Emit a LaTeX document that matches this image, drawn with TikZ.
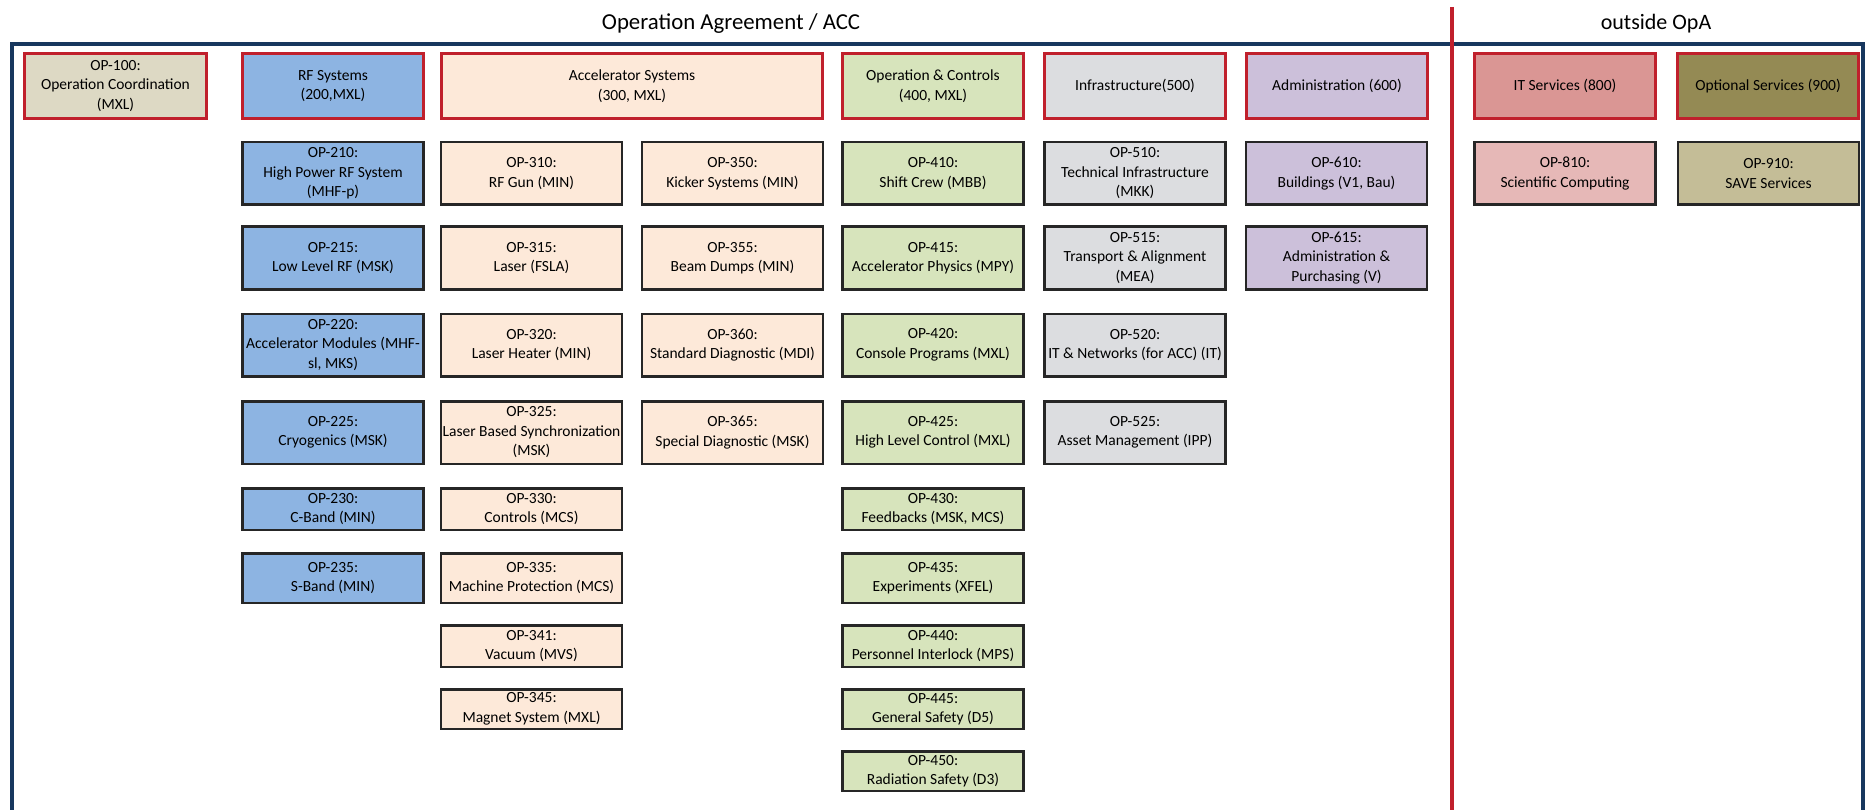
\documentclass[tikz,border=0pt]{standalone}
\usepackage{fontspec}
\setmainfont{Carlito}
\definecolor{navy}{RGB}{23,55,94}
\definecolor{redline}{RGB}{192,32,44}
\definecolor{boxline}{RGB}{38,38,38}
\definecolor{coordbeige}{RGB}{221,217,196}
\definecolor{rfblue}{RGB}{141,180,226}
\definecolor{accpeach}{RGB}{253,233,217}
\definecolor{opgreen}{RGB}{215,228,188}
\definecolor{infragray}{RGB}{220,221,224}
\definecolor{adminlilac}{RGB}{204,192,218}
\definecolor{itrose}{RGB}{218,150,148}
\definecolor{itlight}{RGB}{230,184,183}
\definecolor{optolive}{RGB}{148,138,84}
\definecolor{optkhaki}{RGB}{196,189,151}
\tikzset{
    boxfont/.style={font=\fontsize{15.5}{19.5}\selectfont},
    groupbox/.style={draw=redline, line width=3.3pt, align=center, inner sep=0pt, minimum width=181pt, minimum height=65pt, boxfont},
    opbox/.style={draw=boxline, line width=2.5pt, align=center, inner sep=0pt, minimum width=181pt, minimum height=#1, boxfont},
    opbox/.default=62.5pt
}
\begin{document}
\begin{tikzpicture}[x=1pt, y=-1pt]
        \useasboundingbox (0,0) rectangle (1865,810);
        \node[font=\fontsize{22.8}{27}\selectfont] (title) at (731,24) {Operation Agreement / ACC};
        \node[font=\fontsize{22}{26}\selectfont] (outside) at (1656,24) {outside OpA};
        \draw[navy, line width=3.5pt] (12,815) -- (12,44) -- (1863,44) -- (1863,815);
        \draw[redline, line width=4pt] (1452,7) -- (1452,815);

        \node[groupbox, fill=coordbeige, minimum width=182pt] (op100) at (115.5,86) {OP-100:\\Operation Coordination\\(MXL)};
        \node[groupbox, fill=rfblue] (rf) at (333,86) {RF Systems\\(200,MXL)};
        \node[groupbox, fill=accpeach, minimum width=381pt] (acc) at (632,86) {Accelerator Systems\\(300, MXL)};
        \node[groupbox, fill=opgreen] (opc) at (933,86) {Operation \& Controls\\(400, MXL)};
        \node[groupbox, fill=infragray] (infra) at (1135,86) {Infrastructure(500)};
        \node[groupbox, fill=adminlilac] (admin) at (1337,86) {Administration (600)};
        \node[groupbox, fill=itrose] (it) at (1565,86) {IT Services (800)};
        \node[groupbox, fill=optolive] (opt) at (1768,86) {Optional Services (900)};

        \node[opbox, fill=rfblue] (op210) at (333,173.5) {OP-210:\\High Power RF System\\(MHF-p)};
        \node[opbox, fill=rfblue] (op215) at (333,258) {OP-215:\\Low Level RF (MSK)};
        \node[opbox, fill=rfblue] (op220) at (333,345) {OP-220:\\Accelerator Modules (MHF-\\sl, MKS)};
        \node[opbox, fill=rfblue] (op225) at (333,432.5) {OP-225:\\Cryogenics (MSK)};
        \node[opbox=41.5pt, fill=rfblue] (op230) at (333,509) {OP-230:\\C-Band (MIN)};
        \node[opbox=49.5pt, fill=rfblue] (op235) at (333,578) {OP-235:\\S-Band (MIN)};

        \node[opbox, fill=accpeach] (op310) at (531.5,173.5) {OP-310:\\RF Gun (MIN)};
        \node[opbox, fill=accpeach] (op315) at (531.5,258) {OP-315:\\Laser (FSLA)};
        \node[opbox, fill=accpeach] (op320) at (531.5,345) {OP-320:\\Laser Heater (MIN)};
        \node[opbox, fill=accpeach] (op325) at (531.5,432.5) {OP-325:\\Laser Based Synchronization\\(MSK)};
        \node[opbox=41.5pt, fill=accpeach] (op330) at (531.5,509) {OP-330:\\Controls (MCS)};
        \node[opbox=49.5pt, fill=accpeach] (op335) at (531.5,578) {OP-335:\\Machine Protection (MCS)};
        \node[opbox=41.5pt, fill=accpeach] (op341) at (531.5,646) {OP-341:\\Vacuum (MVS)};
        \node[opbox=39.5pt, fill=accpeach] (op345) at (531.5,709) {OP-345:\\Magnet System (MXL)};

        \node[opbox, fill=accpeach] (op350) at (732.5,173.5) {OP-350:\\Kicker Systems (MIN)};
        \node[opbox, fill=accpeach] (op355) at (732.5,258) {OP-355:\\Beam Dumps (MIN)};
        \node[opbox, fill=accpeach] (op360) at (732.5,345) {OP-360:\\Standard Diagnostic (MDI)};
        \node[opbox, fill=accpeach] (op365) at (732.5,432.5) {OP-365:\\Special Diagnostic (MSK)};

        \node[opbox, fill=opgreen] (op410) at (933,173.5) {OP-410:\\Shift Crew (MBB)};
        \node[opbox, fill=opgreen] (op415) at (933,258) {OP-415:\\Accelerator Physics (MPY)};
        \node[opbox, fill=opgreen] (op420) at (933,345) {OP-420:\\Console Programs (MXL)};
        \node[opbox, fill=opgreen] (op425) at (933,432.5) {OP-425:\\High Level Control (MXL)};
        \node[opbox=41.5pt, fill=opgreen] (op430) at (933,509) {OP-430:\\Feedbacks (MSK, MCS)};
        \node[opbox=49.5pt, fill=opgreen] (op435) at (933,578) {OP-435:\\Experiments (XFEL)};
        \node[opbox=41.5pt, fill=opgreen] (op440) at (933,646) {OP-440:\\Personnel Interlock (MPS)};
        \node[opbox=39.5pt, fill=opgreen] (op445) at (933,709) {OP-445:\\General Safety (D5)};
        \node[opbox=39.5pt, fill=opgreen] (op450) at (933,771) {OP-450:\\Radiation Safety (D3)};

        \node[opbox, fill=infragray] (op510) at (1135,173.5) {OP-510:\\Technical Infrastructure\\(MKK)};
        \node[opbox, fill=infragray] (op515) at (1135,258) {OP-515:\\Transport \& Alignment\\(MEA)};
        \node[opbox, fill=infragray] (op520) at (1135,345) {OP-520:\\IT \& Networks (for ACC) (IT)};
        \node[opbox, fill=infragray] (op525) at (1135,432.5) {OP-525:\\Asset Management (IPP)};

        \node[opbox, fill=adminlilac] (op610) at (1336.5,173.5) {OP-610:\\Buildings (V1, Bau)};
        \node[opbox, fill=adminlilac] (op615) at (1336.5,258) {OP-615:\\Administration \&\\Purchasing (V)};

        \node[opbox, fill=itlight] (op810) at (1565,173.5) {OP-810:\\Scientific Computing};
        \node[opbox, fill=optkhaki] (op910) at (1768.5,173.5) {OP-910:\\SAVE Services};
\end{tikzpicture}
\end{document}
